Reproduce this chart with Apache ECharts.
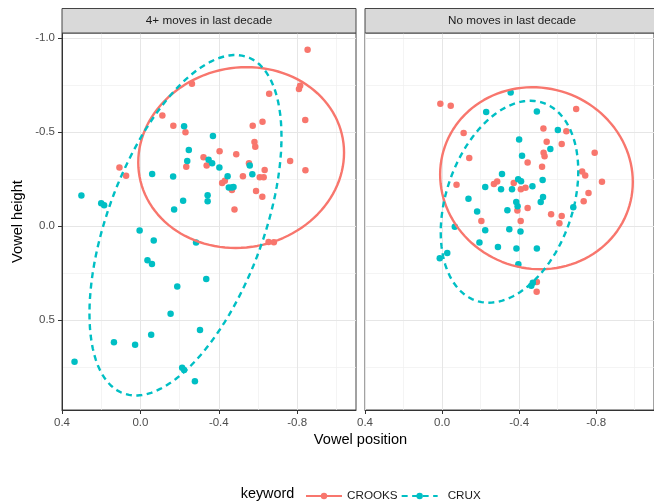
<!DOCTYPE html>
<html><head><meta charset="utf-8">
<script src="https://cdn.jsdelivr.net/npm/echarts@6/dist/echarts.min.js"></script>
<style>html,body{margin:0;padding:0;background:#fff}#c{width:654px;height:504px}</style>
</head><body><div id="c"></div>
<script>
const panels = ['4+ moves in last decade', 'No moves in last decade'];
const keywords = ['CROOKS', 'CRUX'];
const xTicks = [0.4, 0.0, -0.4, -0.8];
const xMinor = [0.2, -0.2, -0.6, -1.0];
const yTicks = [-1.0, -0.5, 0.0, 0.5];
const yMinor = [-0.75, -0.25, 0.25, 0.75];
const xRange = [-1.1, 0.4];
const yRange = [-1.027, 0.977];

const movedCrooks = [[-0.853,-0.938],[-0.815,-0.746],[-0.809,-0.729],[-0.657,-0.704],[-0.841,-0.564],[-0.623,-0.555],[-0.573,-0.534],[-0.582,-0.448],[-0.586,-0.423],[-0.404,-0.398],[-0.489,-0.382],[-0.322,-0.366],[-0.764,-0.347],[-0.554,-0.334],[-0.634,-0.299],[-0.842,-0.298],[-0.523,-0.266],[-0.609,-0.260],[-0.629,-0.260],[-0.417,-0.230],[-0.431,-0.241],[-0.467,-0.192],[-0.590,-0.187],[-0.622,-0.156],[-0.480,-0.089],[-0.338,-0.323],[-0.234,-0.316],[-0.263,-0.757],[-0.112,-0.589],[-0.168,-0.534],[-0.230,-0.499],[0.107,-0.312],[0.073,-0.268],[-0.654,0.084],[-0.681,0.085]];
const movedCrux = [[-0.223,-0.531],[-0.370,-0.479],[-0.247,-0.405],[-0.239,-0.347],[-0.348,-0.353],[-0.366,-0.335],[-0.403,-0.312],[-0.060,-0.277],[-0.167,-0.264],[0.301,-0.163],[0.200,-0.122],[0.185,-0.112],[-0.343,-0.165],[-0.343,-0.132],[-0.218,-0.135],[-0.172,-0.089],[-0.558,-0.323],[-0.571,-0.276],[-0.445,-0.265],[-0.451,-0.206],[-0.466,-0.206],[-0.475,-0.209],[0.004,0.023],[-0.068,0.076],[-0.284,0.087],[-0.036,0.181],[-0.059,0.201],[-0.336,0.280],[-0.188,0.321],[-0.154,0.465],[-0.304,0.552],[0.135,0.617],[0.027,0.630],[-0.055,0.577],[0.336,0.720],[-0.213,0.752],[-0.223,0.764],[-0.278,0.824]];
const stayedCrooks = [[0.009,-0.651],[-0.045,-0.640],[-0.112,-0.495],[-0.141,-0.362],[-0.075,-0.221],[-0.269,-0.225],[-0.286,-0.237],[-0.372,-0.229],[-0.409,-0.196],[-0.433,-0.204],[-0.391,-0.084],[-0.408,-0.027],[-0.204,-0.028],[-0.696,-0.623],[-0.526,-0.519],[-0.645,-0.505],[-0.543,-0.449],[-0.621,-0.437],[-0.527,-0.390],[-0.532,-0.372],[-0.444,-0.338],[-0.792,-0.391],[-0.519,-0.316],[-0.727,-0.291],[-0.743,-0.269],[-0.830,-0.236],[-0.760,-0.177],[-0.735,-0.132],[-0.444,-0.097],[-0.566,-0.064],[-0.621,-0.054],[-0.609,-0.016],[-0.492,0.297],[-0.491,0.348]];
const stayedCrux = [[-0.356,-0.711],[-0.229,-0.607],[-0.400,-0.461],[-0.415,-0.375],[-0.311,-0.277],[-0.224,-0.209],[-0.306,-0.197],[-0.363,-0.197],[-0.395,-0.250],[-0.410,-0.239],[-0.137,-0.146],[-0.385,-0.128],[-0.392,-0.106],[-0.339,-0.085],[-0.182,-0.078],[-0.066,0.003],[-0.224,0.022],[-0.349,0.016],[-0.407,0.028],[-0.194,0.086],[-0.290,0.110],[-0.386,0.118],[0.012,0.170],[-0.027,0.142],[-0.396,0.202],[-0.492,-0.610],[-0.601,-0.511],[-0.562,-0.410],[-0.469,-0.213],[-0.522,-0.245],[-0.524,-0.155],[-0.512,-0.129],[-0.681,-0.101],[-0.492,0.118],[-0.463,0.316],[-0.471,0.301]];

// ellipse: [centerX, centerY, varX, covXY, varY] (shape matrix of the 95% ellipse)
const movedCrooksEllipse = [-0.514, -0.365, 0.2756, 0.0137, 0.231];
const movedCruxEllipse = [-0.230, -0.005, 0.240, 0.230, 0.819];
const stayedCrooksEllipse = [-0.490, -0.255, 0.250, -0.010, 0.234];
const stayedCruxEllipse = [-0.350, -0.130, 0.1274, 0.058, 0.288];

function ellipsePath(p) {
  const [cx, cy, sxx, sxy, syy] = p;
  const l11 = Math.sqrt(sxx), l21 = sxy / l11, l22 = Math.sqrt(syy - l21 * l21);
  const pts = [];
  const n = 120;
  for (let i = 0; i <= n; i++) {
    const t = 2 * Math.PI * i / n;
    const u = Math.cos(t), v = Math.sin(t);
    pts.push([cx + l11 * u, cy + l21 * u + l22 * v]);
  }
  return pts;
}

const RED = '#F8766D', TEAL = '#00BFC4';
const FONT = 'Liberation Sans, Arial, Helvetica, sans-serif';
const gridBoxes = [{left: 62, top: 33, width: 294, height: 377}, {left: 365, top: 33, width: 294, height: 377}];

function gridLines(gi) {
  const d = [];
  xMinor.forEach(v => d.push({xAxis: v, lineStyle: {color: '#EFEFEF', width: 0.7}}));
  yMinor.forEach(v => d.push({yAxis: v, lineStyle: {color: '#EFEFEF', width: 0.7}}));
  xTicks.forEach(v => d.push({xAxis: v, lineStyle: {color: '#E6E6E6', width: 1}}));
  yTicks.forEach(v => d.push({yAxis: v, lineStyle: {color: '#E6E6E6', width: 1}}));
  return {
    name: 'grid' + gi, type: 'line', xAxisIndex: gi, yAxisIndex: gi, data: [], silent: true, z: 0,
    markLine: {silent: true, symbol: ['none', 'none'], label: {show: false}, z: 0, animation: false,
      emphasis: {disabled: true}, lineStyle: {type: 'solid'}, data: d}
  };
}

const series = [];
const panelData = [
  {crooks: movedCrooks, crux: movedCrux, ce: movedCrooksEllipse, xe: movedCruxEllipse},
  {crooks: stayedCrooks, crux: stayedCrux, ce: stayedCrooksEllipse, xe: stayedCruxEllipse}
];
panelData.forEach((pd, gi) => {
  series.push({name: keywords[0], type: 'line', xAxisIndex: gi, yAxisIndex: gi, data: ellipsePath(pd.ce),
    showSymbol: false, symbol: 'circle', symbolSize: 6, silent: true, z: 4,
    lineStyle: {color: RED, width: 2.4}, itemStyle: {color: RED}});
  series.push({name: keywords[1], type: 'line', xAxisIndex: gi, yAxisIndex: gi, data: ellipsePath(pd.xe),
    showSymbol: false, symbol: 'circle', symbolSize: 6, silent: true, z: 4,
    lineStyle: {color: TEAL, width: 2.4, type: [6, 4.5]}, itemStyle: {color: TEAL}});
});
panelData.forEach((pd, gi) => {
  series.push({name: keywords[0], type: 'scatter', xAxisIndex: gi, yAxisIndex: gi, data: pd.crooks,
    symbolSize: 6.5, itemStyle: {color: RED, opacity: 1}, z: 3});
  series.push({name: keywords[1], type: 'scatter', xAxisIndex: gi, yAxisIndex: gi, data: pd.crux,
    symbolSize: 6.5, itemStyle: {color: TEAL, opacity: 1}, z: 3});
  series.push(gridLines(gi));
});

const fmt = v => (Math.abs(v) < 1e-9 ? 0 : v).toFixed(1);

const xAxes = [0, 1].map(gi => ({
  type: 'value', gridIndex: gi, min: xRange[0], max: xRange[1], inverse: true,
  axisLine: {show: true, onZero: false, lineStyle: {color: '#333', width: 1}},
  axisTick: {show: true, length: 4, customValues: xTicks, lineStyle: {color: '#333', width: 1}},
  axisLabel: {show: true, customValues: xTicks, margin: 7, color: '#4D4D4D', fontSize: 11.5, fontFamily: FONT, formatter: fmt},
  splitLine: {show: false}
}));
const yAxes = [0, 1].map(gi => ({
  type: 'value', gridIndex: gi, min: yRange[0], max: yRange[1], inverse: true,
  axisLine: {show: gi === 0, onZero: false, lineStyle: {color: '#333', width: 1}},
  axisTick: {show: gi === 0, length: 4, customValues: yTicks, lineStyle: {color: '#333', width: 1}},
  axisLabel: {show: gi === 0, customValues: yTicks, margin: 7, color: '#4D4D4D', fontSize: 11.5, fontFamily: FONT, formatter: fmt},
  splitLine: {show: false}
}));

const graphics = [];
gridBoxes.forEach((g, i) => {
  graphics.push({type: 'rect', shape: {x: g.left, y: 8.5, width: g.width, height: 24.5},
    style: {fill: '#D9D9D9', stroke: '#444', lineWidth: 1}, z: 10, silent: true});
  graphics.push({type: 'text', x: g.left + g.width / 2, y: 21, z: 11, silent: true,
    style: {text: panels[i], fill: '#1A1A1A', font: '11.7px ' + FONT, textAlign: 'center', textVerticalAlign: 'middle'}});
});
graphics.push({type: 'text', x: 18, y: 221.5, rotation: Math.PI / 2, silent: true,
  style: {text: 'Vowel height', fill: '#000', font: '14.6px ' + FONT, textAlign: 'center', textVerticalAlign: 'middle'}});
graphics.push({type: 'text', x: 360.5, y: 440, silent: true,
  style: {text: 'Vowel position', fill: '#000', font: '14.6px ' + FONT, textAlign: 'center', textVerticalAlign: 'middle'}});
graphics.push({type: 'text', x: 240.7, y: 494, silent: true,
  style: {text: 'keyword', fill: '#000', font: '14.4px ' + FONT, textAlign: 'left', textVerticalAlign: 'middle'}});

const chart = echarts.init(document.getElementById('c'), null, {renderer: 'canvas'});
chart.setOption({
  animation: false,
  backgroundColor: '#fff',
  grid: gridBoxes.map(g => Object.assign({show: true, borderColor: '#444', borderWidth: 1, backgroundColor: 'transparent', containLabel: false}, g)),
  xAxis: xAxes,
  yAxis: yAxes,
  legend: {
    data: [{name: 'CROOKS'}, {name: 'CRUX', textStyle: {padding: [0, 0, 0, 5]}}],
    left: 300, top: 485, padding: 5, orient: 'horizontal', itemWidth: 36, itemHeight: 8, itemGap: 3,
    selectedMode: false,
    textStyle: {color: '#1A1A1A', fontSize: 11.7, fontFamily: FONT}
  },
  graphic: graphics,
  series: series
});

// axis tick marks placed through the axes' own scales
const tickMarks = [];
[0, 1].forEach(gi => {
  xTicks.forEach(v => {
    const p = chart.convertToPixel({gridIndex: gi}, [v, yRange[1]]);
    const x = Math.round(p[0]) + 0.5, y = p[1];
    tickMarks.push({type: 'line', silent: true, z: 12, shape: {x1: x, y1: y, x2: x, y2: y + 4}, style: {stroke: '#333', lineWidth: 1}});
  });
});
yTicks.forEach(v => {
  const p = chart.convertToPixel({gridIndex: 0}, [xRange[1], v]);
  const x = p[0], y = Math.round(p[1]) + 0.5;
  tickMarks.push({type: 'line', silent: true, z: 12, shape: {x1: x - 4, y1: y, x2: x, y2: y}, style: {stroke: '#333', lineWidth: 1}});
});
chart.setOption({graphic: graphics.concat(tickMarks)});
</script></body></html>
